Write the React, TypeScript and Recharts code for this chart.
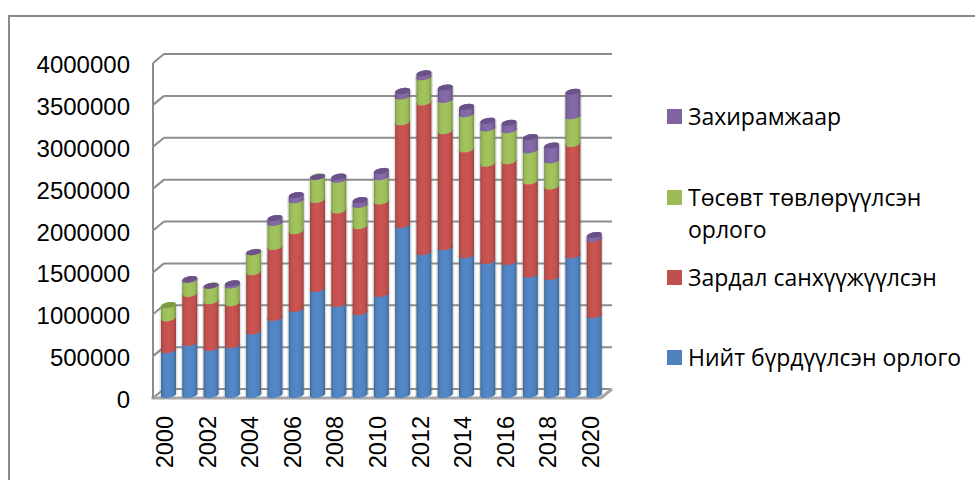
import React from "react";
import { ComposedChart, Bar, XAxis, YAxis, CartesianGrid, Legend } from "recharts";

const years = ["2000","2001","2002","2003","2004","2005","2006","2007","2008","2009","2010","2011","2012","2013","2014","2015","2016","2017","2018","2019","2020"];
const total = [500000,587000,527000,560000,723000,885000,990000,1230000,1050000,952000,1170000,1990000,1667000,1726000,1630000,1560000,1550000,1400000,1370000,1630000,917000];
const spending = [380000,583000,556000,500000,707000,845000,927000,1060000,1115000,1024000,1100000,1224000,1783000,1381000,1260000,1160000,1200000,1110000,1080000,1326000,908000];
const budget = [190000,167000,187000,210000,240000,285000,368000,280000,365000,254000,290000,306000,300000,373000,420000,420000,370000,370000,310000,329000,0];
const directive = [0,43000,30000,60000,30000,92000,95000,25000,70000,90000,107000,100000,80000,180000,120000,125000,120000,190000,210000,325000,80000];
const yTicks = [0,500000,1000000,1500000,2000000,2500000,3000000,3500000,4000000];

const series = [
  { key: "total", name: "Нийт бүрдүүлсэн орлого", color: "#4F81BD", edge: "#3D6695", mid: "#5389C8", lid: "#3F6A9C" },
  { key: "spending", name: "Зардал санхүүжүүлсэн", color: "#C0504D", edge: "#984240", mid: "#CB5552", lid: "#9C403D" },
  { key: "budget", name: "Төсөвт төвлөрүүлсэн орлого", color: "#9BBB59", edge: "#7B9646", mid: "#A3C55E", lid: "#7C9A46" },
  { key: "directive", name: "Захирамжаар", color: "#8064A2", edge: "#654F80", mid: "#876AAB", lid: "#6A5288" },
];

const data = years.map((year, i) => ({
  year,
  total: total[i],
  spending: spending[i],
  budget: budget[i],
  directive: directive[i],
}));

const FONT = "'Liberation Sans', Arial, sans-serif";
const LEGEND_FONT = "'Open Sans', sans-serif";
const WALL = "#8C8C8C";

const Cylinder = (props: any) => {
  const { x, y, width, height, payload, seriesIdx, s } = props;
  if (!height || height <= 0) return null;
  const rx = width / 2;
  const ry = 2.8;
  const d = 1.3;
  const l = x;
  const r = x + width;
  const keysAbove = series.slice(seriesIdx + 1).map((q) => q.key);
  const isTop = keysAbove.every((k) => !payload[k]);
  // Inner joints are raised so that the visible front edge of the joint sits at the value.
  const top = isTop ? y : y - ry;
  const b = seriesIdx === 0 ? y + height : y + height - ry;
  const arc = (sweep: number, tx: number, ty: number) => `A${rx} ${ry} -10 0 ${sweep} ${tx} ${ty}`;
  const body = `M${l} ${top + d} ${arc(1, r, top - d)} L${r} ${b - d} ${arc(1, l, b + d)} Z`;
  const shadow = `M${l - 1.5} ${top + d} L${r + 1.5} ${top - d} L${r + 1.5} ${b - d + 1} L${l - 1.5} ${b + d + 1} Z`;
  return (
    <g>
      <path d={shadow} fill="#7a7a7a" opacity={0.22} />
      <path d={body} fill={`url(#cyl-${s.key})`} />
      {isTop && (
        <ellipse cx={x + rx} cy={y} rx={rx} ry={ry} fill={s.lid} transform={`rotate(-10 ${x + rx} ${y})`} />
      )}
    </g>
  );
};

const wall = (props: any) => {
  const { y1, x1 } = props;
  const y = y1;
  const isFloor = y > 390;
  const step = 41.875;
  const fx = 153;
  const bx = 164;
  const ex = 612;
  const lift = 9;
  return (
    <g key={`wall-${y}-${x1}`} fill="none" stroke={WALL}>
      <line x1={bx} y1={y - lift} x2={ex} y2={y - lift} strokeWidth={2} />
      <line x1={fx} y1={y} x2={bx} y2={y - lift} strokeWidth={2} />
      {!isFloor && <line x1={fx} y1={y} x2={fx} y2={y + step} strokeWidth={2} />}
      {isFloor && <line x1={fx - 1.5} y1={y} x2={601} y2={y} strokeWidth={3} stroke="#A6A6A6" />}
      {isFloor && <line x1={601} y1={y} x2={ex} y2={y - lift} strokeWidth={3} stroke="#A6A6A6" />}
    </g>
  );
};

const YearTick = (props: any) => {
  const { x, payload } = props;
  return (
    <text
      x={0}
      y={0}
      transform={`translate(${x - 3.5} 416) rotate(-90)`}
      textAnchor="end"
      dominantBaseline="central"
      fontFamily={FONT}
      fontSize={23.5}
      fill="#000"
    >
      {payload.value}
    </text>
  );
};

const ValueTick = (props: any) => {
  const { y, payload } = props;
  return (
    <text x={130} y={y + 1.5} textAnchor="end" dominantBaseline="central" fontFamily={FONT} fontSize={24} fill="#000">
      {payload.value}
    </text>
  );
};

const legendRows: Record<string, number> = { directive: 109, budget: 190, spending: 270, total: 350 };

const LegendBox = () => (
  <div style={{ position: "relative", width: 308, height: 300 }}>
    {series.map((s) => (
      <div key={s.key} style={{ position: "absolute", left: 0, top: legendRows[s.key] - 100, width: 308 }}>
        <div style={{ position: "absolute", left: 0, top: 0, width: 15, height: 15, background: s.color }} />
        <div
          style={{
            position: "absolute",
            left: 21,
            top: -9,
            width: 285,
            fontFamily: LEGEND_FONT,
            fontSize: 23,
            lineHeight: "32px",
            color: "#000",
            textAlign: "left",
          }}
        >
          {s.name}
        </div>
      </div>
    ))}
  </div>
);

export default function App() {
  return (
    <div style={{ position: "absolute", left: 0, top: 0, width: 975, height: 480, overflow: "hidden", background: "#fff" }}>
      <div
        style={{
          position: "absolute",
          left: 8,
          top: 15,
          width: 980,
          height: 480,
          borderTop: "2px solid #8A8A8A",
          borderLeft: "2px solid #8A8A8A",
        }}
      />
      <div style={{ position: "absolute", left: 0, top: 0 }}>
        <ComposedChart
          width={975}
          height={480}
          data={data}
          margin={{ top: 54, right: 370, bottom: 0, left: 0 }}
          barCategoryGap={6}
        >
          <defs>
            {series.map((s) => (
              <linearGradient key={s.key} id={`cyl-${s.key}`} x1="0" y1="0" x2="1" y2="0">
                <stop offset="0%" stopColor={s.edge} />
                <stop offset="15%" stopColor={s.color} />
                <stop offset="50%" stopColor={s.mid} />
                <stop offset="82%" stopColor={s.color} />
                <stop offset="100%" stopColor={s.edge} />
              </linearGradient>
            ))}
          </defs>
          <CartesianGrid yAxisId="front" vertical={false} horizontal={wall} syncWithTicks />
          <XAxis
            dataKey="year"
            height={82}
            interval={1}
            axisLine={false}
            tickLine={false}
            tick={<YearTick />}
          />
          <YAxis
            yAxisId="front"
            width={158}
            domain={[0, 4107463]}
            ticks={yTicks}
            allowDataOverflow
            axisLine={false}
            tickLine={false}
            tick={<ValueTick />}
            interval={0}
          />
          <YAxis yAxisId="bars" hide width={0} domain={[-35714, 4059524]} allowDataOverflow />
          {series.map((s, i) => (
            <Bar
              key={s.key}
              yAxisId="bars"
              dataKey={s.key}
              name={s.name}
              stackId="a"
              barSize={15}
              fill={s.color}
              isAnimationActive={false}
              shape={(p: any) => <Cylinder {...p} seriesIdx={i} s={s} />}
            />
          ))}
          <Legend
            layout="horizontal"
            verticalAlign="middle"
            content={<LegendBox />}
            wrapperStyle={{ position: "absolute", left: 667, top: 100, width: 308, height: 300, margin: 0 }}
          />
        </ComposedChart>
      </div>
    </div>
  );
}
